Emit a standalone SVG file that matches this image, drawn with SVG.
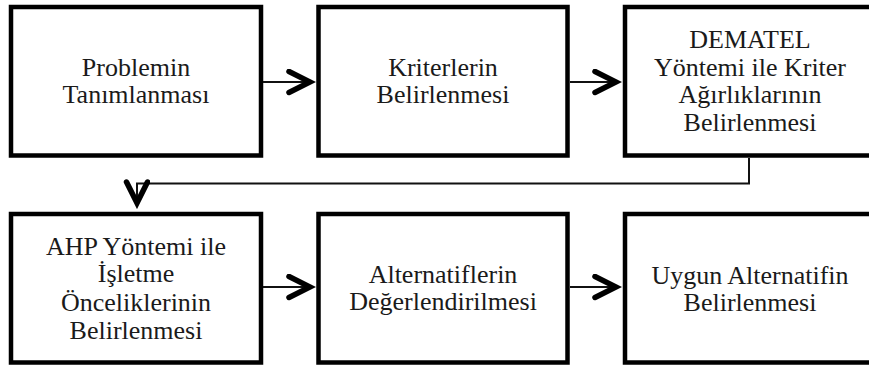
<svg xmlns="http://www.w3.org/2000/svg" width="869" height="368" viewBox="0 0 869 368">
<defs>
<style>
.box{fill:#fff;stroke:#000;stroke-width:4.5}
.t{font-family:"Liberation Serif","Times New Roman",serif;font-size:26px;fill:#1a1a1a;text-anchor:middle}
.c{fill:none;stroke:#111;stroke-width:2}
</style>
<marker id="ah" viewBox="0 0 30 30" refX="25" refY="13" markerWidth="30" markerHeight="30" markerUnits="userSpaceOnUse" orient="auto">
<path d="M3 2.5 L24 13 L3 23.5" fill="none" stroke="#000" stroke-width="5.5" stroke-linecap="round" stroke-linejoin="miter"/>
</marker>
</defs>
<rect width="869" height="368" fill="#fff"/>
<g id="n1"><rect class="box" x="11" y="7" width="250" height="148.5"/>
<text class="t" x="136" y="76">Problemin</text><text class="t" x="136" y="103">Tanımlanması</text></g>
<g id="n2"><rect class="box" x="318.5" y="7" width="249" height="148.5"/>
<text class="t" x="443" y="76">Kriterlerin</text><text class="t" x="443" y="103">Belirlenmesi</text></g>
<g id="n3"><rect class="box" x="625" y="7" width="250" height="148.5"/>
<text class="t" x="750" y="48">DEMATEL</text><text class="t" x="750" y="76">Yöntemi ile Kriter</text><text class="t" x="750" y="103">Ağırlıklarının</text><text class="t" x="750" y="131">Belirlenmesi</text></g>
<g id="n4"><rect class="box" x="11" y="214" width="250" height="148.5"/>
<text class="t" x="136" y="255">AHP Yöntemi ile</text><text class="t" x="136" y="282">İşletme</text><text class="t" x="136" y="311">Önceliklerinin</text><text class="t" x="136" y="339">Belirlenmesi</text></g>
<g id="n5"><rect class="box" x="318.5" y="214" width="249" height="148.5"/>
<text class="t" x="443" y="282.5">Alternatiflerin</text><text class="t" x="443" y="309.5">Değerlendirilmesi</text></g>
<g id="n6"><rect class="box" x="625" y="214" width="250" height="148.5"/>
<text class="t" x="750" y="283.5">Uygun Alternatifin</text><text class="t" x="750" y="310.5">Belirlenmesi</text></g>
<g id="connectors">
<path class="c" d="M263 82 H311" marker-end="url(#ah)"/>
<path class="c" d="M570 82 H617" marker-end="url(#ah)"/>
<path class="c" d="M749 158 V183.5 H137 V204" marker-end="url(#ah)"/>
<path class="c" d="M263 287 H311" marker-end="url(#ah)"/>
<path class="c" d="M570 287 H617" marker-end="url(#ah)"/>
</g>
</svg>
